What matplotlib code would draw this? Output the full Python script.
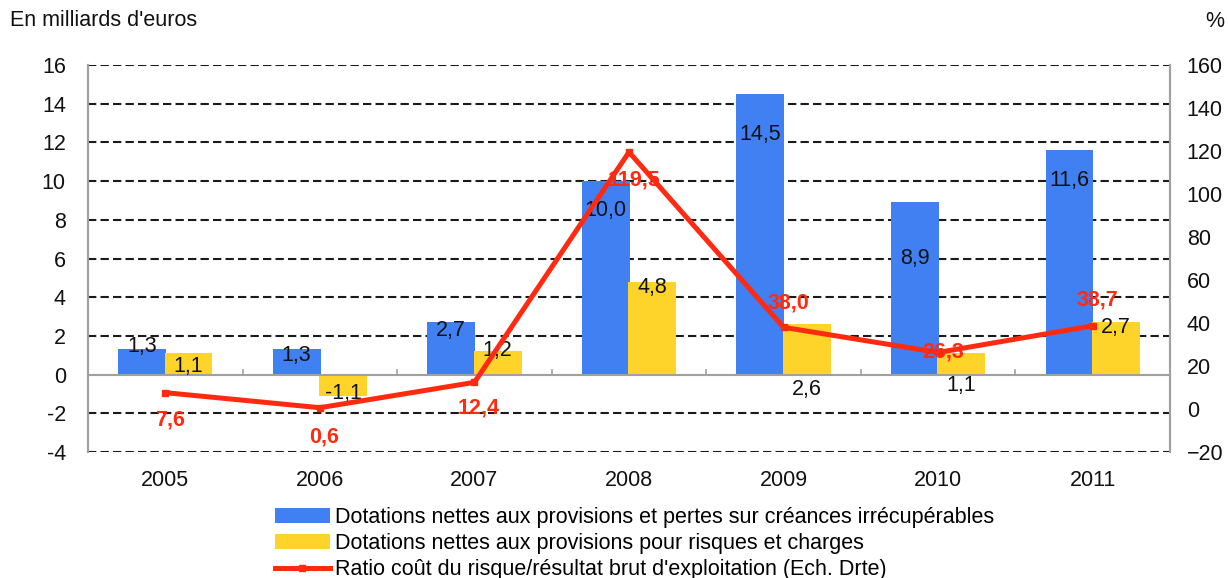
import matplotlib
matplotlib.use('Agg')
import matplotlib.pyplot as plt
from matplotlib.patches import Patch
from matplotlib.lines import Line2D

plt.rcParams['font.family'] = ['Liberation Sans', 'DejaVu Sans']

# values (billions of euros, left scale) and ratio in % (right scale)
years = ['2005', '2006', '2007', '2008', '2009', '2010', '2011']
creances = [1.3, 1.3, 2.7, 10.0, 14.5, 8.9, 11.6]
risques = [1.1, -1.1, 1.2, 4.8, 2.6, 1.1, 2.7]
ratio = [7.6, 0.6, 12.4, 119.5, 38.0, 26.3, 38.7]

# vertical spot of each value label (data units of its own axis)
creances_lbl_y = [1.43, 1.0, 2.3, 8.5, 12.4, 6.0, 10.05]
risques_lbl_y = [0.4, -1.0, 1.27, 4.5, -0.75, -0.55, 2.46]
ratio_lbl_y = [-5.1, -13.0, 0.5, 106.5, 49.3, 26.5, 50.7]

BLUE = '#4080f2'
YELLOW = '#ffd42a'
RED = '#ff2a10'
GREY = '#a0a0a0'
FS = 15.5


def fmt(v):
    return f'{v:.1f}'.replace('.', ',')


fig = plt.figure(figsize=(12.29, 5.78), dpi=100)
ax = fig.add_axes([0.0716, 0.218, 0.8804, 0.6695])
ax2 = ax.twinx()

x = list(range(len(years)))
w = 0.31
ax.set_xlim(-0.5, len(years) - 0.5)
ax.set_ylim(-4, 16)
ax2.set_ylim(-20, 160)

# dashed grid, solid zero line
for t in range(-4, 17, 2):
    if t != 0:
        ax.axhline(t, color='#1a1a1a', lw=1.5, dashes=(4, 2), zorder=1)
ax.axhline(0, color=GREY, lw=1.5, zorder=3)
for b in range(len(years) - 1):
    ax.plot([b + 0.5, b + 0.5], [0, 0.25], color=GREY, lw=1.2, zorder=3)

ax.bar([i - 0.15 for i in x], creances, width=w, color=BLUE, zorder=2)
ax.bar([i + 0.15 for i in x], risques, width=w, color=YELLOW, zorder=2)

for i in x:
    ax.text(i - 0.15, creances_lbl_y[i], fmt(creances[i]), ha='center',
            va='center', fontsize=FS, color='#111111', zorder=5)
    ax.text(i + 0.15, risques_lbl_y[i], fmt(risques[i]), ha='center',
            va='center', fontsize=FS, color='#111111', zorder=5)

ax2.plot(x, ratio, color=RED, lw=3.6, marker='s', markersize=4, zorder=4)
for i in x:
    ax2.text(i + 0.03, ratio_lbl_y[i], fmt(ratio[i]), ha='center', va='center',
             fontsize=FS, fontweight='bold', color=RED, zorder=6)

for a in (ax, ax2):
    for s in ('top', 'bottom'):
        a.spines[s].set_visible(False)
    a.spines['left'].set_color(GREY)
    a.spines['right'].set_color(GREY)
    a.spines['left'].set_linewidth(1.5)
    a.spines['right'].set_linewidth(1.5)
ax2.set_zorder(ax.get_zorder() + 1)
ax2.patch.set_visible(False)

ax.set_yticks(range(-4, 17, 2))
ax.set_yticklabels([str(t) for t in range(-4, 17, 2)])
ax2.set_yticks(range(-20, 161, 20))
ax.tick_params(axis='y', length=0, labelsize=FS, pad=16, labelcolor='#111111')
ax2.tick_params(axis='y', length=0, labelsize=FS, pad=12, labelcolor='#111111')
ax.set_xticks(x)
ax.set_xticklabels(years)
ax.tick_params(axis='x', length=0, labelsize=FS, pad=13, labelcolor='#111111')

fig.text(0.008, 0.965, "En milliards d'euros", fontsize=FS, ha='left', va='center',
         color='#111111')
fig.text(0.996, 0.962, '%', fontsize=FS, ha='right', va='center', color='#111111')

handles = [
    Patch(facecolor=BLUE, edgecolor='none'),
    Patch(facecolor=YELLOW, edgecolor='none'),
    Line2D([0], [0], color=RED, lw=3.6, marker='s', markersize=4),
]
labels = [
    'Dotations nettes aux provisions et pertes sur créances irrécupérables',
    'Dotations nettes aux provisions pour risques et charges',
    "Ratio coût du risque/résultat brut d'exploitation (Ech. Drte)",
]
fig.legend(handles, labels, loc='upper left', bbox_to_anchor=(0.2238, 0.122),
           frameon=False, fontsize=FS, handlelength=2.55, handletextpad=0.23,
           labelspacing=0.23, borderaxespad=0, borderpad=0)

fig.savefig('out.png', dpi=100)
